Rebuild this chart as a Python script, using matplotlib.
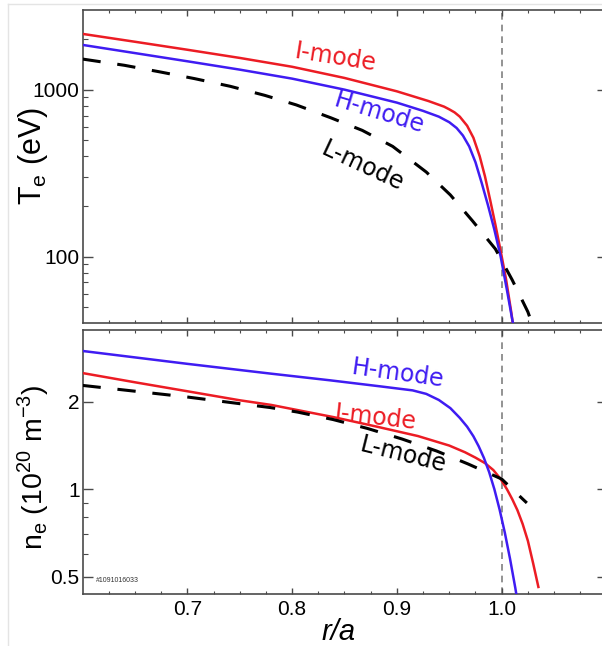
import matplotlib
matplotlib.use("Agg")
import matplotlib.pyplot as plt
from matplotlib.ticker import FixedLocator, FixedFormatter, NullFormatter
from matplotlib.lines import Line2D

plt.rcParams['font.family'] = ['Liberation Sans', 'DejaVu Sans']
plt.rcParams['mathtext.fontset'] = 'custom'
plt.rcParams['mathtext.rm'] = 'Liberation Sans'

# electron temperature profiles (eV) vs r/a
r_te_imode = [0.600, 0.650, 0.700, 0.750, 0.800, 0.850, 0.900, 0.930, 0.945, 0.950,
              0.955, 0.960, 0.967, 0.973, 0.979, 0.984, 0.989, 0.994, 0.999, 1.004,
              1.009, 1.014]
te_imode = [2158, 1936, 1734, 1549, 1371, 1175, 977, 855, 791, 762,
            731, 689, 608, 515, 399, 303, 218, 155, 108, 74,
            47, 28]

r_te_hmode = [0.600, 0.650, 0.700, 0.750, 0.800, 0.850, 0.900, 0.925, 0.940, 0.950,
              0.957, 0.963, 0.969, 0.975, 0.981, 0.987, 0.993, 0.999, 1.005, 1.011, 1.016]
te_hmode = [1854, 1656, 1479, 1318, 1164, 1000, 836, 746, 689, 638,
            589, 531, 457, 367, 275, 202, 145, 100, 63, 39, 25]

r_te_lmode = [0.600, 0.640, 0.674, 0.707, 0.741, 0.774, 0.804, 0.837, 0.867, 0.896,
              0.928, 0.951, 0.972, 0.994, 1.010, 1.025, 1.027]
te_lmode = [1525, 1399, 1277, 1164, 1047, 924, 810, 678, 570, 457,
            321, 234, 164, 111, 72.5, 46.6, 42.9]

# electron density profiles (1e20 m^-3) vs r/a
r_ne_hmode = [0.600, 0.700, 0.779, 0.836, 0.884, 0.915, 0.928, 0.940, 0.951, 0.960,
              0.967, 0.973, 0.978, 0.983, 0.988, 0.993, 0.998, 1.003, 1.008, 1.013, 1.018]
ne_hmode = [2.990, 2.700, 2.500, 2.370, 2.259, 2.188, 2.128, 2.028, 1.901, 1.760,
            1.641, 1.521, 1.406, 1.282, 1.146, 1.000, 0.851, 0.708, 0.575, 0.457, 0.355]

r_ne_imode = [0.600, 0.650, 0.700, 0.750, 0.780, 0.840, 0.880, 0.920, 0.950, 0.965,
              0.975, 0.984, 0.992, 0.999, 1.005, 1.010, 1.015, 1.020, 1.025, 1.030, 1.035]
ne_imode = [2.510, 2.333, 2.173, 2.023, 1.950, 1.769, 1.644, 1.524, 1.413, 1.340,
            1.284, 1.230, 1.164, 1.084, 1.000, 0.925, 0.847, 0.759, 0.664, 0.556, 0.461]

r_ne_lmode = [0.600, 0.700, 0.779, 0.805, 0.839, 0.872, 0.905, 0.938, 0.968, 1.000,
              1.021, 1.024]
ne_lmode = [2.276, 2.076, 1.910, 1.843, 1.737, 1.618, 1.488, 1.353, 1.221, 1.084,
            0.918, 0.897]

x_major = [0.7, 0.8, 0.9, 1.0]
x_minor = [0.625, 0.65, 0.675, 0.725, 0.75, 0.775, 0.825, 0.85, 0.875,
           0.925, 0.95, 0.975, 1.025, 1.05, 1.075]
te_major = [100, 1000]
te_minor = [50, 60, 70, 80, 90, 200, 300, 400, 500, 600, 700, 800, 900, 2000]
ne_major = [0.5, 1, 2]
ne_minor = [0.6, 0.7, 0.8, 0.9, 3]

RED = '#ec1c24'
BLUE = '#3f1cf2'
SPINE = '#4a4a4a'

fig = plt.figure(figsize=(6.02, 6.46), dpi=100)
ax1 = fig.add_axes([82.5 / 602, 1 - 323 / 646, 524 / 602, 313 / 646])
ax2 = fig.add_axes([82.5 / 602, 1 - 594 / 646, 524 / 602, 264 / 646])

for ax in (ax1, ax2):
    ax.set_xlim(0.6, 1.1)
    ax.set_yscale('log')
    ax.axvline(1.0, color='#808080', lw=1.2, ls=(0, (4, 3)), zorder=1)
    ax.xaxis.set_major_locator(FixedLocator(x_major))
    ax.xaxis.set_minor_locator(FixedLocator(x_minor))
    ax.xaxis.set_major_formatter(FixedFormatter(['0.7', '0.8', '0.9', '1.0']))
    ax.tick_params(axis='both', which='both', direction='in', top=True, right=True,
                   color=SPINE, labelsize=15)
    ax.tick_params(axis='y', which='major', length=7, width=1.0, pad=2)
    ax.tick_params(axis='y', which='minor', length=3.5, width=0.8)
    ax.tick_params(axis='x', which='major', length=4.5, width=1.0, pad=4)
    ax.tick_params(axis='x', which='minor', length=2.5, width=0.8)
    for s in ax.spines.values():
        s.set_color(SPINE)
        s.set_linewidth(1.2)

# top panel: Te
ax1.plot(r_te_imode, te_imode, color=RED, lw=1.8, zorder=3)
ax1.plot(r_te_hmode, te_hmode, color=BLUE, lw=1.8, zorder=4)
ax1.plot(r_te_lmode, te_lmode, color='k', lw=2.2, dashes=(6, 5.5), zorder=5)
ax1.set_ylim(40, 3000)
ax1.yaxis.set_major_locator(FixedLocator(te_major))
ax1.yaxis.set_minor_locator(FixedLocator(te_minor))
ax1.yaxis.set_major_formatter(FixedFormatter(['100', '1000']))
ax1.yaxis.set_minor_formatter(NullFormatter())
ax1.tick_params(axis='x', labelbottom=False)
ax1.set_ylabel(r'T$_{\mathregular{e}}$ (eV)', fontsize=22, va='center')
ax1.yaxis.set_label_coords(-0.0945, 0.535)

ax1.text(0.8415, 1556, 'I-mode', color=RED, fontsize=17, family='DejaVu Sans',
         rotation=-9, ha='center', va='center', rotation_mode='anchor')
ax1.text(0.883, 725, 'H-mode', color=BLUE, fontsize=17, family='DejaVu Sans',
         rotation=-17, ha='center', va='center', rotation_mode='anchor')
ax1.text(0.8674, 347, 'L-mode', color='k', fontsize=17, family='DejaVu Sans',
         rotation=-25, ha='center', va='center', rotation_mode='anchor')

# bottom panel: ne
ax2.plot(r_ne_imode, ne_imode, color=RED, lw=1.8, zorder=3)
ax2.plot(r_ne_hmode, ne_hmode, color=BLUE, lw=1.8, zorder=4)
ax2.plot(r_ne_lmode, ne_lmode, color='k', lw=2.2, dashes=(6, 5.5), zorder=5)
ax2.set_ylim(0.436, 3.53)
ax2.yaxis.set_major_locator(FixedLocator(ne_major))
ax2.yaxis.set_minor_locator(FixedLocator(ne_minor))
ax2.yaxis.set_major_formatter(FixedFormatter(['0.5', '1', '2']))
ax2.yaxis.set_minor_formatter(NullFormatter())
ax2.set_ylabel(r'n$_{\mathregular{e}}$ (10$^{\mathregular{20}}$ m$^{\mathregular{-3}}$)',
               fontsize=20.5, va='center')
ax2.yaxis.set_label_coords(-0.0935, 0.48)
ax2.set_xlabel('r/a', fontsize=21, style='italic', va='center')
ax2.xaxis.set_label_coords(0.4885, -0.144)

ax2.text(0.9011, 2.505, 'H-mode', color=BLUE, fontsize=17, family='DejaVu Sans',
         rotation=-8, ha='center', va='center', rotation_mode='anchor')
ax2.text(0.8798, 1.768, 'I-mode', color=RED, fontsize=17, family='DejaVu Sans',
         rotation=-6.5, ha='center', va='center', rotation_mode='anchor')
ax2.text(0.9059, 1.311, 'L-mode', color='k', fontsize=17, family='DejaVu Sans',
         rotation=-14, ha='center', va='center', rotation_mode='anchor')
ax2.text(0.6124, 0.485, '#1091016033', fontsize=5, color='#333333',
         ha='left', va='center')

# faint screenshot frame
fig.add_artist(Line2D([8 / 602, 8 / 602], [0, 1 - 4 / 646], color='#e4e4e4', lw=1))
fig.add_artist(Line2D([8 / 602, 1], [1 - 4 / 646, 1 - 4 / 646], color='#e4e4e4', lw=1))

fig.savefig('out.png', dpi=100)
